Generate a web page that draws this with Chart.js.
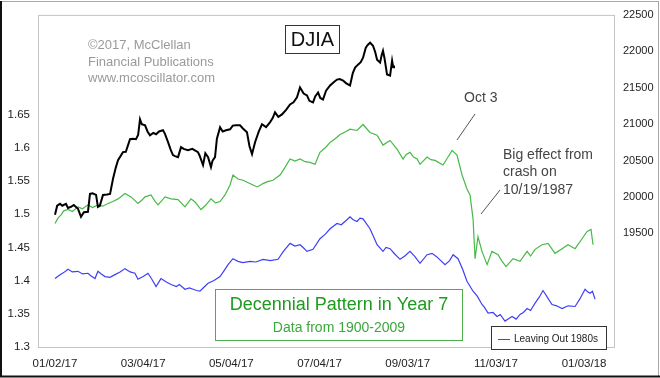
<!DOCTYPE html>
<html>
<head>
<meta charset="utf-8">
<script src="https://cdn.jsdelivr.net/npm/chart.js@4.4.0/dist/chart.umd.min.js"></script>
<style>
html, body { margin: 0; padding: 0; background: #fff; }
#wrap { position: relative; width: 660px; height: 378px; }
</style>
</head>
<body>
<div id="wrap"><canvas id="grafico" width="660" height="378"></canvas></div>
<script>
// eixo X: dias desde 01/02/17
const xTickDays = [0, 61, 122, 183, 244, 305, 366];
const xTickLabels = ['01/02/17', '03/04/17', '05/04/17', '07/04/17', '09/03/17', '11/03/17', '01/03/18'];
const leftTicks = [1.3, 1.35, 1.4, 1.45, 1.5, 1.55, 1.6, 1.65];
const rightTicks = [19500, 20000, 20500, 21000, 21500, 22000, 22500];

// DJIA (eixo direito) [dia, valor]
const djia = [[0,19755],[1.5,19880],[3.5,19906],[5,19880],[7.6,19906],[9,19850],[11.1,19865],[13,19890],[15.9,19837],[18,19728],[20,19790],[22.8,19796],[24.2,20042],[26,20050],[28.4,20028],[29.7,19865],[31,19880],[33.2,20028],[36,20035],[38.1,20042],[40.1,20247],[42,20400],[43.6,20506],[47,20616],[49,20620],[51.9,20793],[54,20800],[56,20793],[57.5,20850],[58.8,21066],[60,21000],[62.3,20984],[64,20900],[65.7,20848],[68,20880],[69.9,20861],[72,20900],[74.7,20916],[76,20870],[78.2,20752],[80,20650],[81.6,20575],[83,20560],[85.1,20547],[87.2,20684],[89,20660],[92,20643],[95,20660],[98.9,20616],[100,20570],[102.4,20438],[104,20600],[105.9,20547],[107.9,20411],[109,20500],[110.7,20547],[112,20800],[114.2,20957],[116,20900],[118.3,20916],[121.1,20930],[123,20980],[125.2,20984],[128,20984],[130,20940],[132.8,20889],[134.5,20700],[136.3,20588],[138.4,20752],[141,20900],[143.2,20998],[146,20960],[148.7,21025],[150.5,21080],[152.2,21162],[154.5,21100],[157,21134],[160,21200],[162.6,21271],[165,21300],[167.4,21367],[169.5,21503],[172,21420],[174.3,21394],[176,21320],[178.5,21298],[180,21380],[182,21435],[183.5,21360],[185.4,21339],[187.5,21460],[190.3,21531],[193,21580],[195.1,21612],[197,21620],[199.3,21599],[201.5,21560],[204.1,21531],[206,21700],[207.6,21776],[209.6,21817],[211.5,21850],[213.1,21913],[215,22050],[216.5,22090],[218,22118],[220,22077],[221.5,21990],[222.8,21886],[224.9,21845],[226,21950],[226.9,22008],[228,21900],[229.7,21681],[231.8,21667],[233.2,21872],[234,21780],[234.5,21804]];

// Padrão decenal, todos os anos (eixo esquerdo)
const patternAll = [[0,1.486],[2,1.494],[4.2,1.499],[6,1.505],[9,1.507],[12,1.504],[15.9,1.511],[19,1.508],[22.8,1.514],[26,1.510],[29.7,1.514],[33,1.512],[36.7,1.516],[40,1.519],[43.6,1.523],[48.4,1.531],[52.6,1.526],[57.4,1.516],[60,1.521],[62.3,1.526],[66.4,1.529],[69,1.520],[71.3,1.514],[76.1,1.526],[80.3,1.523],[85.1,1.522],[89.9,1.511],[94.1,1.523],[97,1.518],[101,1.507],[104,1.513],[107.9,1.523],[111,1.517],[114.2,1.519],[117.6,1.529],[121.1,1.544],[123.1,1.559],[126.6,1.553],[130.1,1.551],[134,1.547],[137,1.544],[140,1.541],[143.9,1.546],[147,1.549],[150.8,1.551],[155.7,1.559],[159,1.570],[162.6,1.583],[166,1.580],[169.5,1.583],[173,1.579],[176.4,1.578],[179.9,1.575],[183.3,1.593],[187,1.600],[190.3,1.608],[194,1.614],[197.2,1.620],[201,1.624],[204.1,1.628],[208.9,1.626],[213.1,1.635],[217.9,1.623],[222.8,1.619],[226.9,1.604],[231.8,1.611],[236.6,1.598],[240.8,1.583],[243,1.590],[245.6,1.593],[248,1.586],[250.5,1.583],[252.5,1.575],[257.4,1.586],[260,1.582],[262.9,1.581],[268.4,1.574],[271.9,1.586],[274.7,1.596],[278.1,1.589],[281.6,1.559],[285,1.538],[287.1,1.529],[289.2,1.493],[290.6,1.433],[292.6,1.466],[295.4,1.444],[298.9,1.424],[302.3,1.444],[306.5,1.439],[309,1.430],[312,1.421],[316.9,1.433],[321.7,1.429],[326.6,1.444],[329,1.437],[332.1,1.447],[336.9,1.454],[341.1,1.456],[345.9,1.441],[350.8,1.448],[354.9,1.454],[359.8,1.448],[364.6,1.463],[368.1,1.474],[370.8,1.477],[372.2,1.454]];

// Padrão decenal sem a década de 1980
const patternNo80s = [[0,1.403],[3,1.408],[6,1.412],[9,1.417],[12,1.413],[15.9,1.414],[19,1.410],[22.8,1.411],[25,1.407],[27.7,1.403],[29.7,1.414],[32,1.410],[34.6,1.406],[38,1.405],[41.5,1.409],[45,1.413],[48.4,1.418],[52,1.413],[55.3,1.411],[57.4,1.402],[61,1.406],[64.3,1.411],[67,1.402],[69.9,1.391],[73.3,1.403],[77,1.398],[80.3,1.394],[84,1.391],[86,1.394],[89.9,1.387],[93,1.389],[95.5,1.387],[98,1.385],[100.3,1.384],[103,1.390],[105.9,1.396],[110,1.400],[114.2,1.406],[117,1.415],[119.7,1.424],[123.1,1.433],[126.6,1.429],[130,1.427],[134.9,1.429],[139,1.428],[143.9,1.432],[149,1.430],[154.3,1.432],[158,1.444],[162.6,1.456],[166,1.452],[169.5,1.454],[172,1.449],[174.3,1.444],[178.5,1.447],[183.3,1.463],[187,1.470],[190.3,1.478],[195.1,1.486],[198,1.484],[200.6,1.489],[204.1,1.496],[206,1.492],[208.9,1.489],[211,1.494],[213.1,1.493],[217.9,1.478],[220,1.468],[222.8,1.454],[226.9,1.444],[229,1.450],[231.8,1.448],[235,1.440],[238.7,1.432],[242,1.437],[245.6,1.444],[249,1.436],[252.5,1.426],[257.4,1.439],[260.8,1.441],[264,1.436],[269.8,1.424],[273,1.430],[275.4,1.439],[278.8,1.433],[282,1.417],[285,1.399],[289.2,1.384],[292,1.377],[295.4,1.364],[297,1.360],[299.6,1.351],[303,1.352],[305.8,1.346],[308,1.349],[311.3,1.339],[314,1.343],[316.2,1.346],[319,1.342],[321.7,1.349],[324,1.352],[326.6,1.358],[329,1.355],[332.1,1.366],[335,1.375],[337.6,1.385],[340,1.377],[343.8,1.364],[347,1.362],[350.8,1.358],[355,1.362],[359.8,1.361],[363,1.372],[366.7,1.387],[368.5,1.383],[370.1,1.381],[371.8,1.384],[373.6,1.372]];

const FONTE = '"Liberation Sans", Arial, sans-serif';

function toPoints(arr) {
    return arr.map(p => ({ x: p[0], y: p[1] }));
}

// desenha textos, caixas e moldura
const decoracao = {
    id: 'decoracao',
    afterDraw(chart) {
        const ctx = chart.ctx;
        const a = chart.chartArea;
        ctx.save();

        // borda da área do gráfico
        ctx.strokeStyle = '#c4c4c4';
        ctx.lineWidth = 1;
        ctx.strokeRect(a.left + 0.5, a.top + 0.5, a.right - a.left - 1, a.bottom - a.top);

        // moldura externa
        ctx.strokeStyle = '#a8a8a8';
        ctx.beginPath();
        ctx.moveTo(1, 1.5); ctx.lineTo(659, 1.5);
        ctx.moveTo(658.5, 1); ctx.lineTo(658.5, 377);
        ctx.stroke();
        ctx.strokeStyle = '#111';
        ctx.lineWidth = 2;
        ctx.beginPath();
        ctx.moveTo(1, 1); ctx.lineTo(1, 377);
        ctx.moveTo(0, 376.5); ctx.lineTo(660, 376.5);
        ctx.stroke();

        ctx.textBaseline = 'middle';
        ctx.textAlign = 'left';

        // copyright
        ctx.fillStyle = '#9a9a9a';
        ctx.font = '13px ' + FONTE;
        ctx.fillText('\u00A92017, McClellan', 88, 45);
        ctx.fillText('Financial Publications', 88, 62);
        ctx.fillText('www.mcoscillator.com', 88, 78);

        // caixa DJIA
        ctx.fillStyle = '#fff';
        ctx.fillRect(285, 25, 54, 28);
        ctx.strokeStyle = '#333';
        ctx.lineWidth = 1;
        ctx.strokeRect(285.5, 25.5, 54, 28);
        ctx.fillStyle = '#111';
        ctx.font = '20px ' + FONTE;
        ctx.textAlign = 'center';
        ctx.fillText('DJIA', 312.5, 40);

        // anotações
        ctx.textAlign = 'left';
        ctx.fillStyle = '#444';
        ctx.font = '14px ' + FONTE;
        ctx.fillText('Oct 3', 464, 98);
        ctx.fillText('Big effect from', 503, 155);
        ctx.fillText('crash on', 503, 172);
        ctx.fillText('10/19/1987', 503, 190);
        ctx.strokeStyle = '#555';
        ctx.beginPath();
        ctx.moveTo(475, 114); ctx.lineTo(457, 140);
        ctx.moveTo(500, 190); ctx.lineTo(481, 214);
        ctx.stroke();

        // caixa do padrão decenal
        ctx.fillStyle = '#fff';
        ctx.fillRect(215, 289, 247, 51);
        ctx.strokeStyle = '#4caf4c';
        ctx.strokeRect(215.5, 289.5, 247, 51);
        ctx.textAlign = 'center';
        ctx.fillStyle = '#1e9a1e';
        ctx.font = '18px ' + FONTE;
        ctx.fillText('Decennial Pattern in Year 7', 339, 305);
        ctx.fillStyle = '#3aa83a';
        ctx.font = '14px ' + FONTE;
        ctx.fillText('Data from 1900-2009', 339, 328);

        // legenda
        ctx.fillStyle = '#fff';
        ctx.fillRect(491, 326, 115, 23);
        ctx.strokeStyle = '#333';
        ctx.strokeRect(491.5, 326.5, 115, 23);
        ctx.strokeStyle = '#3f3ff5';
        ctx.beginPath();
        ctx.moveTo(498, 339.5); ctx.lineTo(510, 339.5);
        ctx.stroke();
        ctx.textAlign = 'left';
        ctx.fillStyle = '#222';
        ctx.font = '10px ' + FONTE;
        ctx.fillText('Leaving Out 1980s', 514, 339);

        ctx.restore();
    }
};

const config = {
    type: 'line',
    data: {
        datasets: [{
            label: 'DJIA',
            data: toPoints(djia),
            yAxisID: 'yR',
            borderColor: '#000',
            borderWidth: 2,
            pointRadius: 0,
            tension: 0
        }, {
            label: 'Decennial Pattern in Year 7',
            data: toPoints(patternAll),
            yAxisID: 'yL',
            borderColor: '#46b946',
            borderWidth: 1.2,
            pointRadius: 0,
            tension: 0
        }, {
            label: 'Leaving Out 1980s',
            data: toPoints(patternNo80s),
            yAxisID: 'yL',
            borderColor: '#3f3ff5',
            borderWidth: 1.2,
            pointRadius: 0,
            tension: 0
        }]
    },
    options: {
        responsive: false,
        animation: false,
        layout: { padding: { top: 12, left: 0, right: 0, bottom: 0 } },
        plugins: {
            legend: { display: false },
            tooltip: { enabled: false }
        },
        scales: {
            x: {
                type: 'linear',
                position: 'bottom',
                min: -11.76,
                max: 387.4,
                grid: { display: false, drawTicks: false },
                border: { display: false },
                afterBuildTicks: (s) => { s.ticks = xTickDays.map(v => ({ value: v })); },
                afterFit: (s) => { s.height = 31; },
                ticks: {
                    color: '#222',
                    font: { family: FONTE, size: 11.5 },
                    padding: 10,
                    maxRotation: 0,
                    autoSkip: false,
                    callback: (v) => xTickLabels[xTickDays.indexOf(v)]
                }
            },
            yL: {
                type: 'linear',
                position: 'left',
                min: 1.3,
                max: 1.8,
                grid: { display: false, drawTicks: false },
                border: { display: false },
                afterBuildTicks: (s) => { s.ticks = leftTicks.map(v => ({ value: v })); },
                afterFit: (s) => { s.width = 38; },
                ticks: {
                    color: '#222',
                    font: { family: FONTE, size: 11.5 },
                    padding: 8,
                    callback: (v) => String(Math.round(v * 100) / 100)
                }
            },
            yR: {
                type: 'linear',
                position: 'right',
                min: 17940,
                max: 22500,
                grid: { display: false, drawTicks: false },
                border: { display: false },
                afterBuildTicks: (s) => { s.ticks = rightTicks.map(v => ({ value: v })); },
                afterFit: (s) => { s.width = 45; },
                ticks: {
                    color: '#222',
                    font: { family: FONTE, size: 11 },
                    padding: 8,
                    callback: (v) => String(v)
                }
            }
        }
    },
    plugins: [decoracao]
};

const ctx = document.getElementById('grafico').getContext('2d');
const chart = new Chart(ctx, config);
</script>
</body>
</html>
